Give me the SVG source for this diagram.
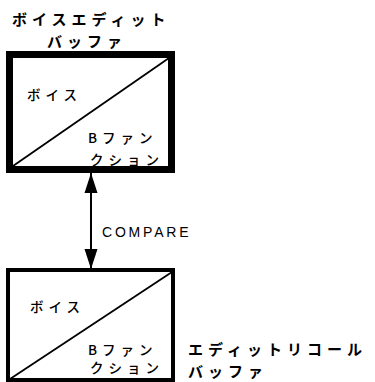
<svg xmlns="http://www.w3.org/2000/svg" width="375" height="382" viewBox="0 0 375 382">
<style>
.jp{font-family:"Noto Sans CJK JP","Noto Sans",sans-serif;fill:#000}
.title{font-size:15px;font-weight:bold;letter-spacing:5px}
.inner{font-size:13.5px;font-weight:500;letter-spacing:5px}
.lbl{font-family:"Liberation Sans",Arial,sans-serif;font-size:14px;letter-spacing:2.8px;fill:#000}
.box{fill:#fff;stroke:#000}
.diag{stroke:#000;stroke-width:1.8;fill:none}
</style>
<defs>
<marker id="ah" viewBox="0 0 20 14" refX="20" refY="7" markerWidth="20" markerHeight="14" markerUnits="userSpaceOnUse" orient="auto-start-reverse">
<path d="M0,0.5 L20,7 L0,13.5 Z" fill="#000"/>
</marker>
</defs>
<g id="voice-edit-buffer">
<text class="jp title" x="12" y="25">ボイスエディット</text>
<text class="jp title" x="47" y="47">バッファ</text>
<rect class="box" x="9.5" y="54.5" width="162" height="115" stroke-width="7"/>
<line class="diag" x1="13" y1="166" x2="169" y2="58"/>
<text class="jp inner" x="27" y="100">ボイス</text>
<text class="jp inner" x="88" y="143">Bファン</text>
<text class="jp inner" x="90" y="165">クション</text>
</g>
<g id="edit-recall-buffer">
<rect class="box" x="8" y="270" width="165" height="110" stroke-width="4"/>
<line class="diag" x1="10" y1="379" x2="172" y2="272"/>
<text class="jp inner" x="30" y="312">ボイス</text>
<text class="jp inner" x="88" y="355">Bファン</text>
<text class="jp inner" x="90" y="373">クション</text>
<text class="jp title" x="188" y="355">エディットリコール</text>
<text class="jp title" x="188" y="377">バッファ</text>
</g>
<g id="connectors">
<line x1="91" y1="173" x2="91" y2="269" stroke="#000" stroke-width="2" marker-start="url(#ah)" marker-end="url(#ah)"/>
<text class="lbl" x="102" y="237">COMPARE</text>
</g>
</svg>
